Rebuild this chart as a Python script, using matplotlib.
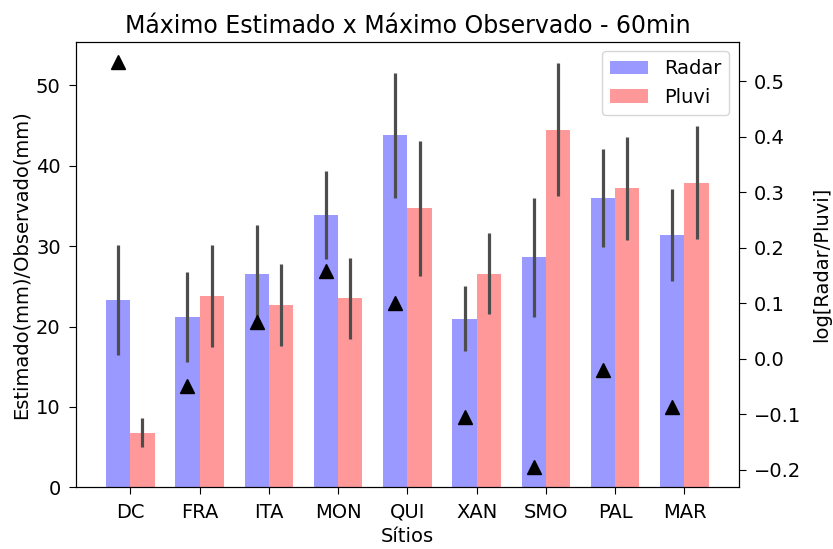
import matplotlib
matplotlib.use('Agg')
import matplotlib.pyplot as plt
import numpy as np

# sites and values
sitios = ['DC', 'FRA', 'ITA', 'MON', 'QUI', 'XAN', 'SMO', 'PAL', 'MAR']
radar = [23.3, 21.2, 26.6, 33.9, 43.8, 21.0, 28.6, 36.0, 31.4]
radar_err = [6.9, 5.6, 6.0, 5.5, 7.8, 4.1, 7.4, 6.1, 5.7]
pluvi = [6.8, 23.8, 22.7, 23.5, 34.7, 26.6, 44.5, 37.2, 37.9]
pluvi_err = [1.8, 6.3, 5.1, 5.0, 8.4, 5.1, 8.3, 6.4, 7.0]
log_ratio = [0.535, -0.049, 0.067, 0.159, 0.100, -0.104, -0.195, -0.021, -0.086]

x = np.arange(len(sitios))
w = 0.35
fs = 14

fig = plt.figure(figsize=(8.33, 5.49), dpi=100)
ax = fig.add_axes([0.0912, 0.1124, 0.7958, 0.8116])

ekw = {'ecolor': '0.3', 'elinewidth': 2.3, 'capsize': 0}
ax.bar(x - w/2, radar, w, yerr=radar_err, color='b', alpha=0.4,
       error_kw=ekw, label='Radar')
ax.bar(x + w/2, pluvi, w, yerr=pluvi_err, color='r', alpha=0.4,
       error_kw=ekw, label='Pluvi')
ax.set_xticks(x)
ax.set_xticklabels(sitios)
ax.set_xlabel('Sítios', fontsize=fs)
ax.set_ylabel('Estimado(mm)/Observado(mm)', fontsize=fs)
ax.set_title('Máximo Estimado x Máximo Observado - 60min', fontsize=17)
ax.tick_params(labelsize=fs, length=5, pad=6)
ax.legend(loc='upper right', fontsize=fs)

ax2 = ax.twinx()
ax2.plot(x - w/2, log_ratio, '^', color='k', markersize=10)
ax2.set_ylabel('log[Radar/Pluvi]', fontsize=fs, labelpad=8)
ax2.tick_params(labelsize=fs, length=5, pad=6)

fig.savefig('out.png', dpi=100)
